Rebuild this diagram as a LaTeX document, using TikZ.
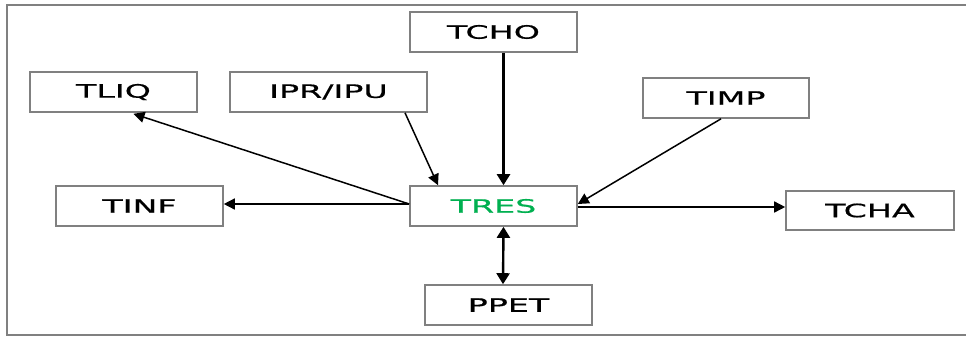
\documentclass[tikz,border=0pt]{standalone}
\usepackage{fontspec}
\usetikzlibrary{arrows.meta,calc}
\newfontfamily\boxfont[FakeStretch=1.8,FakeBold=0.6]{DejaVu Sans}
\definecolor{boxgray}{RGB}{128,128,128}
\definecolor{tresgreen}{RGB}{0,176,80}
\begin{document}
\begin{tikzpicture}[x=1pt,y=-1pt,
  boxnode/.style={draw=boxgray,line width=1.6pt,fill=white,rectangle,
    minimum width=167pt,minimum height=40pt,inner sep=0pt,
    font=\boxfont\fontsize{18.5}{19}\selectfont},
  conn/.style={line width=1.5pt,-{Triangle[length=11pt,width=11pt]}},
  thickconn/.style={line width=2.4pt,-{Triangle[length=11pt,width=13pt]}},
  dblconn/.style={line width=2.4pt,{Triangle[length=11pt,width=13pt]}-{Triangle[length=11pt,width=13pt]}}]
\useasboundingbox (0,0) rectangle (966,338);
\draw[boxgray,line width=1.6pt] (970,5) -- (7,5) -- (7,335) -- (970,335);
\node[boxnode] (tcho) at (493.5,32) {TCHO};
\node[boxnode] (tliq) at (113.5,92) {TLIQ};
\node[boxnode,minimum width=197pt] (ipr) at (328.5,92) {IPR/IPU};
\node[boxnode,minimum width=166pt] (timp) at (726,98) {TIMP};
\node[boxnode] (tinf) at (139.5,206) {TINF};
\node[boxnode,text=tresgreen] (tres) at (493.5,206) {TRES};
\node[boxnode,minimum width=168pt,minimum height=39pt] (tcha) at (870,210.5) {TCHA};
\node[boxnode] (ppet) at (508.5,305) {PPET};
\draw[conn] ($(tres.west)+(0,-2)$) -- ($(tliq.south)+(20,1)$);
\draw[conn] ($(tres.west)+(0,-2)$) -- (tinf.east |- {$(tres.west)+(0,-2)$});
\draw[conn] ($(ipr.south)+(76.5,0)$) -- ($(tres.north)+(-55.5,0)$);
\draw[thickconn] ($(tcho.south)+(10,0)$) -- ($(tres.north)+(10,0)$);
\draw[conn] ($(timp.south)+(-5,0)$) -- ($(tres.east)+(0,-2)$);
\draw[conn] ($(tres.east)+(0,1)$) -- ($(tcha.west)+(0,-3.5)$);
\draw[dblconn] ($(tres.south)+(10,0)$) -- ($(ppet.north)+(-5.5,0)$);
\end{tikzpicture}
\end{document}
